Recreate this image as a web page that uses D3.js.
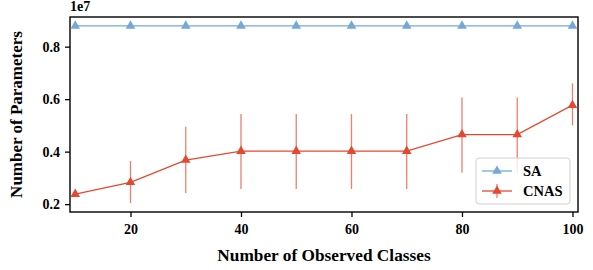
<!DOCTYPE html>
<meta charset="utf-8">
<script src="https://d3js.org/d3.v7.min.js"></script>
<style>
  body { margin: 0; background: #fff; }
  text { font-family: "Liberation Serif", "Times New Roman", serif; font-weight: bold; }
</style>
<div id="chart"></div>
<script>

// data (values in units of 1e7)
var classes = [10, 20, 30, 40, 50, 60, 70, 80, 90, 100];
var saValues = [0.879, 0.879, 0.879, 0.879, 0.879, 0.879, 0.879, 0.879, 0.879, 0.879];
var cnasValues = [0.238, 0.283, 0.368, 0.402, 0.402, 0.402, 0.402, 0.465, 0.465, 0.577];
var cnasLow = [0.238, 0.204, 0.242, 0.258, 0.258, 0.258, 0.258, 0.32, 0.32, 0.5];
var cnasHigh = [0.238, 0.364, 0.495, 0.543, 0.543, 0.543, 0.543, 0.606, 0.606, 0.66];
var xTicks = [20, 40, 60, 80, 100];
var yTicks = [0.2, 0.4, 0.6, 0.8];
var seriesNames = ["SA", "CNAS"];

var blue = "#74a9d6", red = "#e4492f";

var margin = {top: 17, right: 15, bottom: 58, left: 70},
    width = 593 - margin.left - margin.right,
    height = 270 - margin.top - margin.bottom;

var svg = d3.select("#chart")
  .append("svg")
    .attr("width", 593)
    .attr("height", 270)
  .append("g")
    .attr("transform", "translate(" + margin.left + "," + margin.top + ")");

var x = d3.scaleLinear().domain([9.05, 101]).range([0, width]);
var y = d3.scaleLinear().domain([0.17, 0.913]).range([height, 0]);

// axes
var xAxis = svg.append("g")
    .attr("transform", "translate(0," + height + ")")
    .call(d3.axisBottom(x).tickValues(xTicks).tickSize(5).tickPadding(7).tickFormat(d3.format("d")));
var yAxis = svg.append("g")
    .call(d3.axisLeft(y).tickValues(yTicks).tickSize(5).tickPadding(5).tickFormat(d3.format(".1f")));

[xAxis, yAxis].forEach(function(a) {
  a.select(".domain").remove();
  a.selectAll("line").attr("stroke", "#000").attr("stroke-width", 1.3);
  a.selectAll("text").style("font-size", "14px").attr("fill", "#000")
    .style("font-family", "'Liberation Serif', serif").style("font-weight", "bold");
});

// frame
svg.append("rect")
    .attr("width", width)
    .attr("height", height)
    .attr("fill", "none")
    .attr("stroke", "#000")
    .attr("stroke-width", 1.4);

// SA line
var line = d3.line()
    .x(function(d) { return x(d[0]); })
    .y(function(d) { return y(d[1]); });

svg.append("path")
    .datum(classes.map(function(c, i) { return [c, saValues[i]]; }))
    .attr("d", line)
    .attr("fill", "none")
    .attr("stroke", blue)
    .attr("stroke-width", 1.3);

var tri = d3.symbol().type(d3.symbolTriangle).size(40);

svg.selectAll(".saMark")
  .data(classes)
  .enter().append("path")
    .attr("d", tri)
    .attr("transform", function(d, i) { return "translate(" + x(d) + "," + y(saValues[i]) + ")"; })
    .attr("fill", blue);

// CNAS error bars
svg.selectAll(".err")
  .data(classes)
  .enter().append("line")
    .attr("x1", function(d) { return x(d); })
    .attr("x2", function(d) { return x(d); })
    .attr("y1", function(d, i) { return y(cnasLow[i]); })
    .attr("y2", function(d, i) { return y(cnasHigh[i]); })
    .attr("stroke", red)
    .attr("stroke-opacity", 0.7)
    .attr("stroke-width", 1.3);

svg.append("path")
    .datum(classes.map(function(c, i) { return [c, cnasValues[i]]; }))
    .attr("d", line)
    .attr("fill", "none")
    .attr("stroke", red)
    .attr("stroke-width", 1.3);

svg.selectAll(".cnasMark")
  .data(classes)
  .enter().append("path")
    .attr("d", tri)
    .attr("transform", function(d, i) { return "translate(" + x(d) + "," + y(cnasValues[i]) + ")"; })
    .attr("fill", red);

// exponent label
svg.append("text")
    .attr("x", 0)
    .attr("y", -6)
    .style("font-size", "14px")
    .text("1e7");

// axis labels
svg.append("text")
    .attr("x", width / 2)
    .attr("y", height + 49)
    .attr("text-anchor", "middle")
    .style("font-size", "17.3px")
    .text("Number of Observed Classes");

svg.append("text")
    .attr("transform", "translate(-48," + (height / 2) + ") rotate(-90)")
    .attr("text-anchor", "middle")
    .style("font-size", "17px")
    .text("Number of Parameters");

// legend
var legend = svg.append("g")
    .attr("transform", "translate(" + (width - 102) + "," + (height - 54) + ")");

legend.append("rect")
    .attr("width", 94)
    .attr("height", 46)
    .attr("rx", 3)
    .attr("fill", "#fff")
    .attr("fill-opacity", 0.8)
    .attr("stroke", "#d0d0d0")
    .attr("stroke-width", 1);

var item = legend.selectAll(".item")
  .data(seriesNames)
  .enter().append("g")
    .attr("transform", function(d, i) { return "translate(0," + (13 + i * 20) + ")"; });

item.append("line")
    .attr("x1", 6).attr("x2", 36)
    .attr("stroke", function(d, i) { return i === 0 ? blue : red; })
    .attr("stroke-width", 1.3);

item.filter(function(d, i) { return i === 1; }).append("line")
    .attr("x1", 21).attr("x2", 21).attr("y1", -7).attr("y2", 7)
    .attr("stroke", red).attr("stroke-opacity", 0.7).attr("stroke-width", 1.3);

item.append("path")
    .attr("d", tri)
    .attr("transform", "translate(21,0)")
    .attr("fill", function(d, i) { return i === 0 ? blue : red; });

item.append("text")
    .attr("x", 47)
    .attr("dy", "0.35em")
    .style("font-size", "14.5px")
    .text(function(d) { return d; });

</script>
